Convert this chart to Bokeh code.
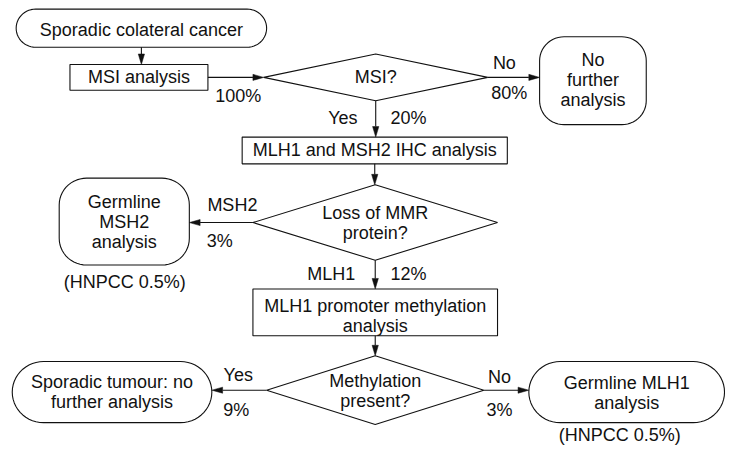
import numpy as np
from bokeh.plotting import figure
from bokeh.models import Range1d
from bokeh.core.properties import value
from bokeh.embed import file_html
from bokeh.resources import INLINE

# ---------------- content ----------------
node_ids = ["start", "msi_test", "msi_q", "no_msi", "ihc", "mmr_q",
            "germ_msh2", "methyl_test", "methyl_q", "sporadic", "germ_mlh1"]
node_lines = [
    ["Sporadic colateral cancer"],
    ["MSI analysis"],
    ["MSI?"],
    ["No", "further", "analysis"],
    ["MLH1 and MSH2 IHC analysis"],
    ["Loss of MMR", "protein?"],
    ["Germline", "MSH2", "analysis"],
    ["MLH1 promoter methylation", "analysis"],
    ["Methylation", "present?"],
    ["Sporadic tumour: no", "further analysis"],
    ["Germline MLH1", "analysis"],
]
node_kinds = ["stadium", "box", "diamond", "rounded", "box", "diamond",
              "rounded", "box", "diamond", "stadium", "stadium"]

edge_from = ["start", "msi_test", "msi_q", "msi_q", "ihc", "mmr_q",
             "mmr_q", "methyl_test", "methyl_q", "methyl_q"]
edge_to = ["msi_test", "msi_q", "no_msi", "ihc", "mmr_q", "germ_msh2",
           "methyl_test", "methyl_q", "sporadic", "germ_mlh1"]
edge_answer = ["", "", "No", "Yes", "", "MSH2", "MLH1", "", "Yes", "No"]
edge_percent = ["", "100%", "80%", "20%", "", "3%", "12%", "", "9%", "3%"]

note_nodes = ["germ_msh2", "germ_mlh1"]
note_text = ["(HNPCC 0.5%)", "(HNPCC 0.5%)"]

# ---------------- layout (reference pixels) ----------------
# node: centre x, centre y, width, height, corner radius, text offset y
layout = {
    "start":       (144.0, 29.0, 256, 40, 20, 2),
    "msi_test":    (141.5, 80.5, 141, 27, 0, 0),
    "msi_q":       (383.5, 80.5, 229, 49, 0, 0),
    "no_msi":      (605.5, 84.0, 109, 92, 25, -1),
    "ihc":         (382.5, 157.0, 271, 28, 0, 0),
    "mmr_q":       (383.0, 232.5, 250, 79, 0, 0),
    "germ_msh2":   (126.5, 231.5, 133, 91, 28, 0.5),
    "methyl_test": (383.0, 326.5, 250, 49, 0, 4),
    "methyl_q":    (383.0, 408.0, 222, 72, 0, 1),
    "sporadic":    (114.0, 410.0, 204, 64, 32, 0),
    "germ_mlh1":   (640.0, 410.0, 200, 64, 32, 1),
}
line_gap = 21
answer_pos = [None, None, (515, 65), (350, 123), None, (237, 214),
              (338, 286), None, (243, 392), (510, 394)]
percent_pos = [None, (243, 100), (520, 97), (417, 123), None, (224, 252),
               (417, 286), None, (241, 429), (510, 429)]
note_pos = [(127, 295), (633, 455)]

FONT = value("Liberation Sans")
SIZE = "18px"
INK = "#111111"

p = figure(width=725, height=447, x_range=Range1d(0, 741),
           y_range=Range1d(468, 0), output_backend="svg",
           toolbar_location=None, min_border=0)
p.axis.visible = False
p.grid.visible = False
p.outline_line_color = None
p.background_fill_color = "white"
p.border_fill_color = "white"


def rounded(cx, cy, w, h, r, n=14):
    r = min(r, w / 2, h / 2)
    xs, ys = [], []
    corners = [(cx + w / 2 - r, cy - h / 2 + r, -np.pi / 2, 0),
               (cx + w / 2 - r, cy + h / 2 - r, 0, np.pi / 2),
               (cx - w / 2 + r, cy + h / 2 - r, np.pi / 2, np.pi),
               (cx - w / 2 + r, cy - h / 2 + r, np.pi, 1.5 * np.pi)]
    for (ox, oy, a0, a1) in corners:
        t = np.linspace(a0, a1, n)
        xs.extend(ox + r * np.cos(t))
        ys.extend(oy + r * np.sin(t))
    return xs, ys


shape_xs, shape_ys = [], []
for nid, kind in zip(node_ids, node_kinds):
    cx, cy, w, h, r, _ = layout[nid]
    if kind == "diamond":
        xs = [cx - w / 2, cx, cx + w / 2, cx]
        ys = [cy, cy - h / 2, cy, cy + h / 2]
    elif kind == "box":
        xs = [cx - w / 2, cx + w / 2, cx + w / 2, cx - w / 2]
        ys = [cy - h / 2, cy - h / 2, cy + h / 2, cy + h / 2]
    else:
        rr = h / 2 if kind == "stadium" else r
        xs, ys = rounded(cx, cy, w, h, rr)
    shape_xs.append(list(xs))
    shape_ys.append(list(ys))

p.patches(shape_xs, shape_ys, fill_color="white", line_color=INK, line_width=1.1)

# node texts
tx, ty, tt = [], [], []
for nid, lines in zip(node_ids, node_lines):
    cx, cy, w, h, r, off = layout[nid]
    n = len(lines)
    for i, s in enumerate(lines):
        tx.append(cx)
        ty.append(cy + off + (i - (n - 1) / 2) * line_gap)
        tt.append(s)


def side_x(nid, y, side):
    cx, cy, w, h, r, _ = layout[nid]
    kind = node_kinds[node_ids.index(nid)]
    sgn = 1 if side == "right" else -1
    if kind == "diamond":
        return cx + sgn * (w / 2) * (1 - abs(y - cy) / (h / 2))
    return cx + sgn * w / 2


seg = {"x0": [], "y0": [], "x1": [], "y1": []}
head_xs, head_ys = [], []
for a, b in zip(edge_from, edge_to):
    ax, ay, aw, ah, _, _ = layout[a]
    bx, by, bw, bh, _, _ = layout[b]
    if by - ay > ah / 2 + 5 and abs(bx - ax) < 20:
        x0, y0 = ax, ay + ah / 2
        x1, y1 = ax, by - bh / 2
    elif bx > ax:
        x0, y0 = side_x(a, ay, "right"), ay
        x1, y1 = side_x(b, ay, "left"), ay
    else:
        x0, y0 = side_x(a, ay, "left"), ay
        x1, y1 = side_x(b, ay, "right"), ay
    d = np.array([x1 - x0, y1 - y0], dtype=float)
    d /= np.hypot(*d)
    nrm = np.array([-d[1], d[0]])
    L, W = 11.0, 3.2
    base = np.array([x1, y1]) - L * d
    seg["x0"].append(x0); seg["y0"].append(y0)
    seg["x1"].append(base[0]); seg["y1"].append(base[1])
    head_xs.append([x1, base[0] + W * nrm[0], base[0] - W * nrm[0]])
    head_ys.append([y1, base[1] + W * nrm[1], base[1] - W * nrm[1]])

p.segment(x0="x0", y0="y0", x1="x1", y1="y1", source=seg, line_color=INK, line_width=1.1)
p.patches(head_xs, head_ys, fill_color=INK, line_color=INK, line_width=0.5)

for lab, pos in zip(edge_answer + edge_percent, answer_pos + percent_pos):
    if lab and pos:
        tx.append(pos[0]); ty.append(pos[1]); tt.append(lab)
for lab, pos in zip(note_text, note_pos):
    tx.append(pos[0]); ty.append(pos[1]); tt.append(lab)

p.text(x=tx, y=ty, text=tt, text_align="center", text_baseline="middle",
       text_font=FONT, text_font_size=SIZE, text_color=INK)

open("out.html", "w").write(file_html(p, INLINE))
